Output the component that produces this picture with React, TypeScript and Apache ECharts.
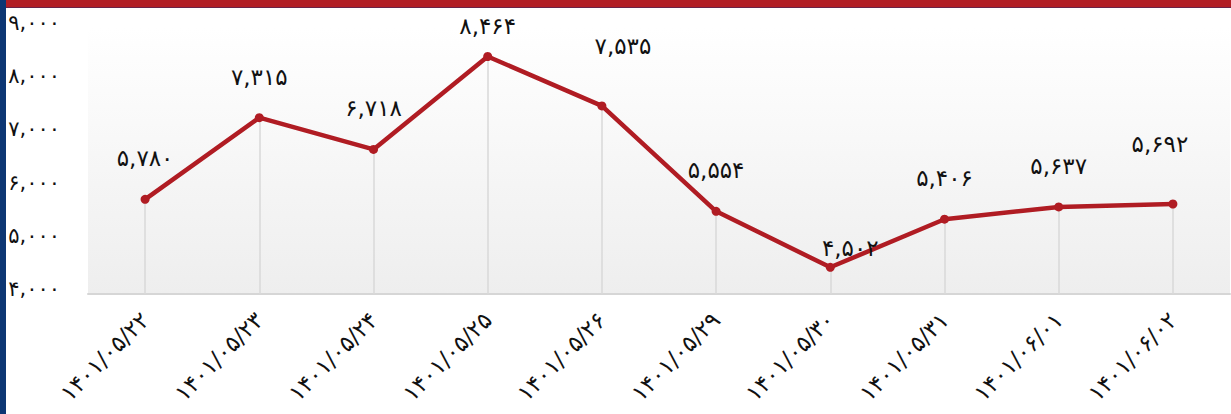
import React, { useEffect, useRef } from "react";
import * as echarts from "echarts";

const categories = [
  "۱۴۰۱/۰۵/۲۲",
  "۱۴۰۱/۰۵/۲۳",
  "۱۴۰۱/۰۵/۲۴",
  "۱۴۰۱/۰۵/۲۵",
  "۱۴۰۱/۰۵/۲۶",
  "۱۴۰۱/۰۵/۲۹",
  "۱۴۰۱/۰۵/۳۰",
  "۱۴۰۱/۰۵/۳۱",
  "۱۴۰۱/۰۶/۰۱",
  "۱۴۰۱/۰۶/۰۲",
];
const values = [5780, 7315, 6718, 8464, 7535, 5554, 4502, 5406, 5637, 5692];
const yMin = 4000;
const yMax = 9000;
const yStep = 1000;

// label placement tweaks (layout only)
const labelShift: [number, number][] = [
  [0, 0], [0, 0], [0, 0], [0, 10], [21, -19],
  [0, 0], [20, 22], [0, 0], [0, 0], [-13, -19],
];

const FA = "۰۱۲۳۴۵۶۷۸۹";
const toFa = (n: number) =>
  n.toLocaleString("en-US").replace(/\d/g, (d) => FA[Number(d)]);

export default function App() {
  const ref = useRef<HTMLDivElement>(null);
  useEffect(() => {
    if (!ref.current) return;
    const chart = echarts.init(ref.current, null, { renderer: "svg" });
    const font = "DejaVu Sans, sans-serif";
    chart.setOption({
      animation: false,
      grid: {
        left: 88,
        right: 1,
        top: 28,
        bottom: 120,
        show: true,
        borderWidth: 0,
        backgroundColor: new echarts.graphic.LinearGradient(0, 0, 0, 1, [
          { offset: 0, color: "#ffffff" },
          { offset: 1, color: "#eeeeee" },
        ]),
      },
      graphic: [
        { type: "rect", left: 0, top: 0, shape: { width: 1231, height: 8 }, style: { fill: "#b21e25" }, z: 10 },
        { type: "rect", left: 0, top: 7, shape: { width: 1231, height: 1 }, style: { fill: "#6b2348" }, z: 10 },
        { type: "rect", left: 0, top: 0, shape: { width: 6, height: 414 }, style: { fill: "#0d3673" }, z: 11 },
      ],
      xAxis: {
        type: "category",
        data: categories,
        boundaryGap: true,
        axisLine: { show: true, lineStyle: { color: "#d6d6d6", width: 2 } },
        axisTick: { show: false },
        splitLine: { show: false },
        axisLabel: {
          rotate: 45,
          margin: 22,
          fontSize: 23,
          color: "#111",
          fontFamily: font,
          interval: 0,
        },
      },
      yAxis: {
        type: "value",
        min: yMin,
        max: yMax,
        interval: yStep,
        axisLine: { show: false },
        axisTick: { show: false },
        splitLine: { show: false },
        axisLabel: {
          margin: 28,
          fontSize: 21,
          color: "#111",
          fontFamily: font,
          verticalAlign: "bottom",
          lineHeight: 10,
          formatter: (v: number) => toFa(v),
        },
      },
      series: [
        {
          type: "line",
          data: values.map((v, i) => ({
            value: v,
            label: { offset: labelShift[i] },
          })),
          symbol: "circle",
          symbolSize: 9,
          itemStyle: { color: "#b01c23" },
          lineStyle: { color: "#b01c23", width: 4.5 },
          z: 5,
          label: {
            show: true,
            position: "top",
            distance: 25,
            fontSize: 23,
            color: "#111",
            fontFamily: font,
            formatter: (p: any) => toFa(p.value),
          },
          markLine: {
            silent: true,
            symbol: "none",
            label: { show: false },
            lineStyle: { color: "#d9d9d9", width: 1.5, type: "solid" },
            data: values.map((v, i) => [
              { coord: [i, yMin] },
              { coord: [i, v] },
            ]),
            z: 1,
          },
        },
      ],
    });
    return () => chart.dispose();
  }, []);
  return (
    <div
      ref={ref}
      style={{ position: "fixed", left: 0, top: 0, width: 1231, height: 414, background: "#fff" }}
    />
  );
}
